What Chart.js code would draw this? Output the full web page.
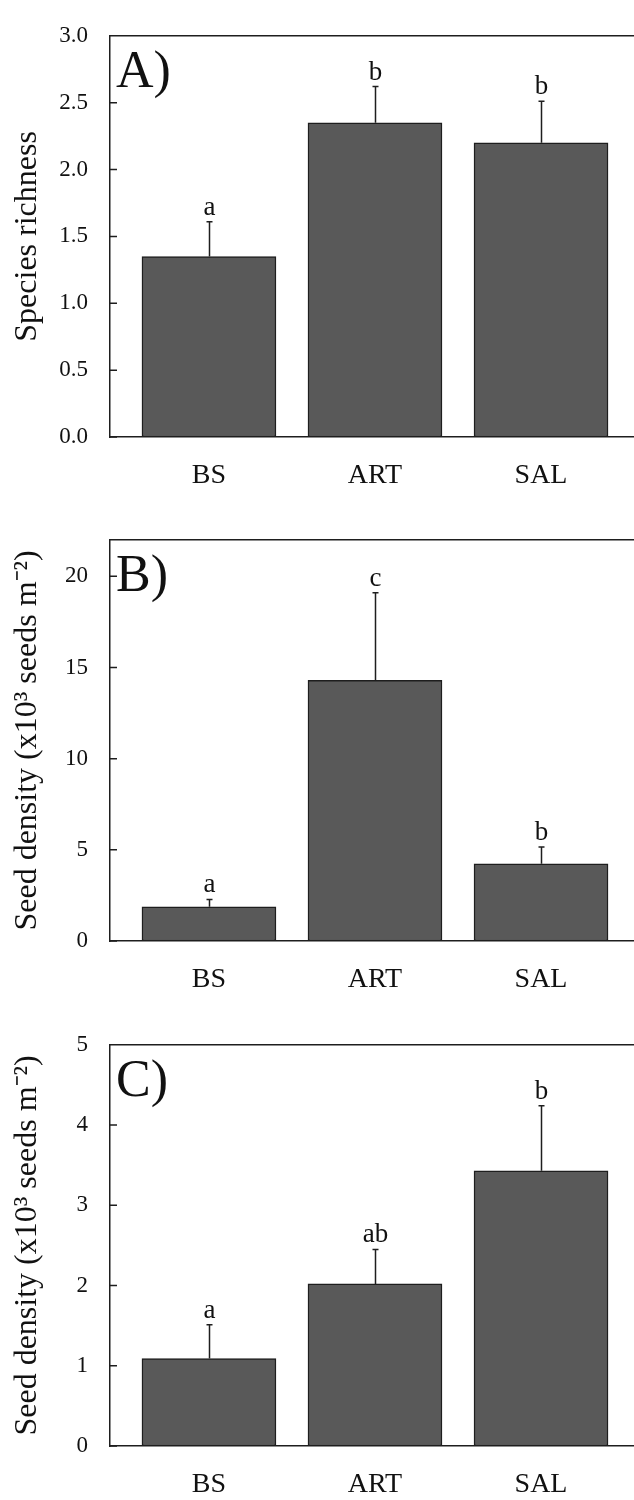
<!DOCTYPE html>
<html>
<head>
<meta charset="utf-8">
<script src="https://cdn.jsdelivr.net/npm/chart.js@4.4.1/dist/chart.umd.min.js"></script>
<style>
    body { margin: 0; background: #fff; width: 634px; height: 1500px; overflow: hidden; position: relative; }
    .panel { position: absolute; left: 0; width: 634px; height: 491px; }
</style>
</head>
<body>
<div class="panel" style="top:0px"><canvas id="panelA" width="634" height="491"></canvas></div>
<div class="panel" style="top:504px"><canvas id="panelB" width="634" height="491"></canvas></div>
<div class="panel" style="top:1009px"><canvas id="panelC" width="634" height="491"></canvas></div>
<script>
// categories shared by the three panels
const sites = ['BS', 'ART', 'SAL'];

// A) species richness
const richnessMean = [1.35, 2.35, 2.20];
const richnessSE = [0.26, 0.27, 0.31];
const richnessLetters = ['a', 'b', 'b'];
const richnessTicks = [0, 0.5, 1.0, 1.5, 2.0, 2.5, 3.0];

// B) seed density
const densityBMean = [1.88, 14.3, 4.23];
const densityBSE = [0.40, 4.8, 0.93];
const densityBLetters = ['a', 'c', 'b'];
const densityBTicks = [0, 5, 10, 15, 20];

// C) seed density
const densityCMean = [1.09, 2.02, 3.43];
const densityCSE = [0.42, 0.43, 0.81];
const densityCLetters = ['a', 'ab', 'b'];
const densityCTicks = [0, 1, 2, 3, 4, 5];

const serif = 'Liberation Serif';
const ink = '#1e1e1e';

// frame top, inward ticks, error bars, letters and panel label
const panelExtras = {
    id: 'panelExtras',
    afterDatasetsDraw(chart, args, opts) {
        const { ctx, chartArea: area, scales: { x, y } } = chart;
        ctx.save();
        ctx.strokeStyle = ink;
        ctx.lineWidth = 1.5;
        ctx.beginPath();
        ctx.moveTo(area.left, area.top);
        ctx.lineTo(area.right, area.top);
        y.ticks.forEach(t => {
            const py = y.getPixelForValue(t.value);
            ctx.moveTo(area.left, py);
            ctx.lineTo(area.left + 7, py);
        });
        ctx.stroke();

        ctx.fillStyle = '#111';
        ctx.textAlign = 'center';
        ctx.textBaseline = 'alphabetic';
        ctx.font = '27px "' + serif + '"';
        opts.means.forEach((m, i) => {
            const px = Math.round(x.getPixelForValue(i + 1)) + 0.5;
            const base = y.getPixelForValue(m);
            const top = y.getPixelForValue(m + opts.errors[i]);
            ctx.beginPath();
            ctx.moveTo(px, base);
            ctx.lineTo(px, top);
            ctx.moveTo(px - 3, top);
            ctx.lineTo(px + 3, top);
            ctx.stroke();
            ctx.fillText(opts.letters[i], px, top - 7);
        });

        ctx.textAlign = 'left';
        ctx.font = '52px "' + serif + '"';
        ctx.fillText(opts.label, area.left + 6, area.top + 51);
        ctx.restore();
    }
};

function makePanel(id, label, yTitle, means, errors, letters, yTicks, yMax, decimals) {
    return new Chart(document.getElementById(id), {
        type: 'bar',
        data: {
            datasets: [{
                data: means.map((v, i) => ({ x: i + 1, y: v })),
                backgroundColor: '#595959', // dark grey bars
                borderColor: ink,
                borderWidth: 1.5,
                borderSkipped: false,
                barThickness: 134
            }]
        },
        options: {
            responsive: false,
            animation: false,
            layout: { padding: { top: 19, left: 0, right: 0, bottom: 0 } },
            plugins: {
                legend: { display: false },
                tooltip: { enabled: false },
                panelExtras: { means: means, errors: errors, letters: letters, label: label }
            },
            scales: {
                x: {
                    type: 'linear',
                    offset: false,
                    min: 0.404,
                    max: 3.56,
                    afterBuildTicks: axis => { axis.ticks = sites.map((s, i) => ({ value: i + 1 })); },
                    afterFit: axis => { axis.height = 54; },
                    grid: { display: false, drawTicks: false },
                    border: { display: true, color: ink, width: 1.5 },
                    ticks: {
                        color: '#111',
                        padding: 22,
                        maxRotation: 0,
                        autoSkip: false,
                        font: { family: serif, size: 28 },
                        callback: v => sites[v - 1]
                    }
                },
                y: {
                    min: 0,
                    max: yMax,
                    afterBuildTicks: axis => { axis.ticks = yTicks.map(v => ({ value: v })); },
                    afterFit: axis => { axis.width = 110; },
                    grid: { display: false, drawTicks: false },
                    border: { display: true, color: ink, width: 1.5 },
                    title: {
                        display: true,
                        text: yTitle,
                        color: '#111',
                        padding: { top: 8, bottom: 0 },
                        font: { family: serif, size: 32 }
                    },
                    ticks: {
                        color: '#111',
                        padding: 22,
                        font: { family: serif, size: 23 },
                        callback: v => v.toFixed(decimals)
                    }
                }
            }
        },
        plugins: [panelExtras]
    });
}

const chartA = makePanel('panelA', 'A)', 'Species richness', richnessMean, richnessSE, richnessLetters, richnessTicks, 3, 1);
const chartB = makePanel('panelB', 'B)', 'Seed density (x10³ seeds m⁻²)', densityBMean, densityBSE, densityBLetters, densityBTicks, 22, 0);
const chartC = makePanel('panelC', 'C)', 'Seed density (x10³ seeds m⁻²)', densityCMean, densityCSE, densityCLetters, densityCTicks, 5, 0);
</script>
</body>
</html>
